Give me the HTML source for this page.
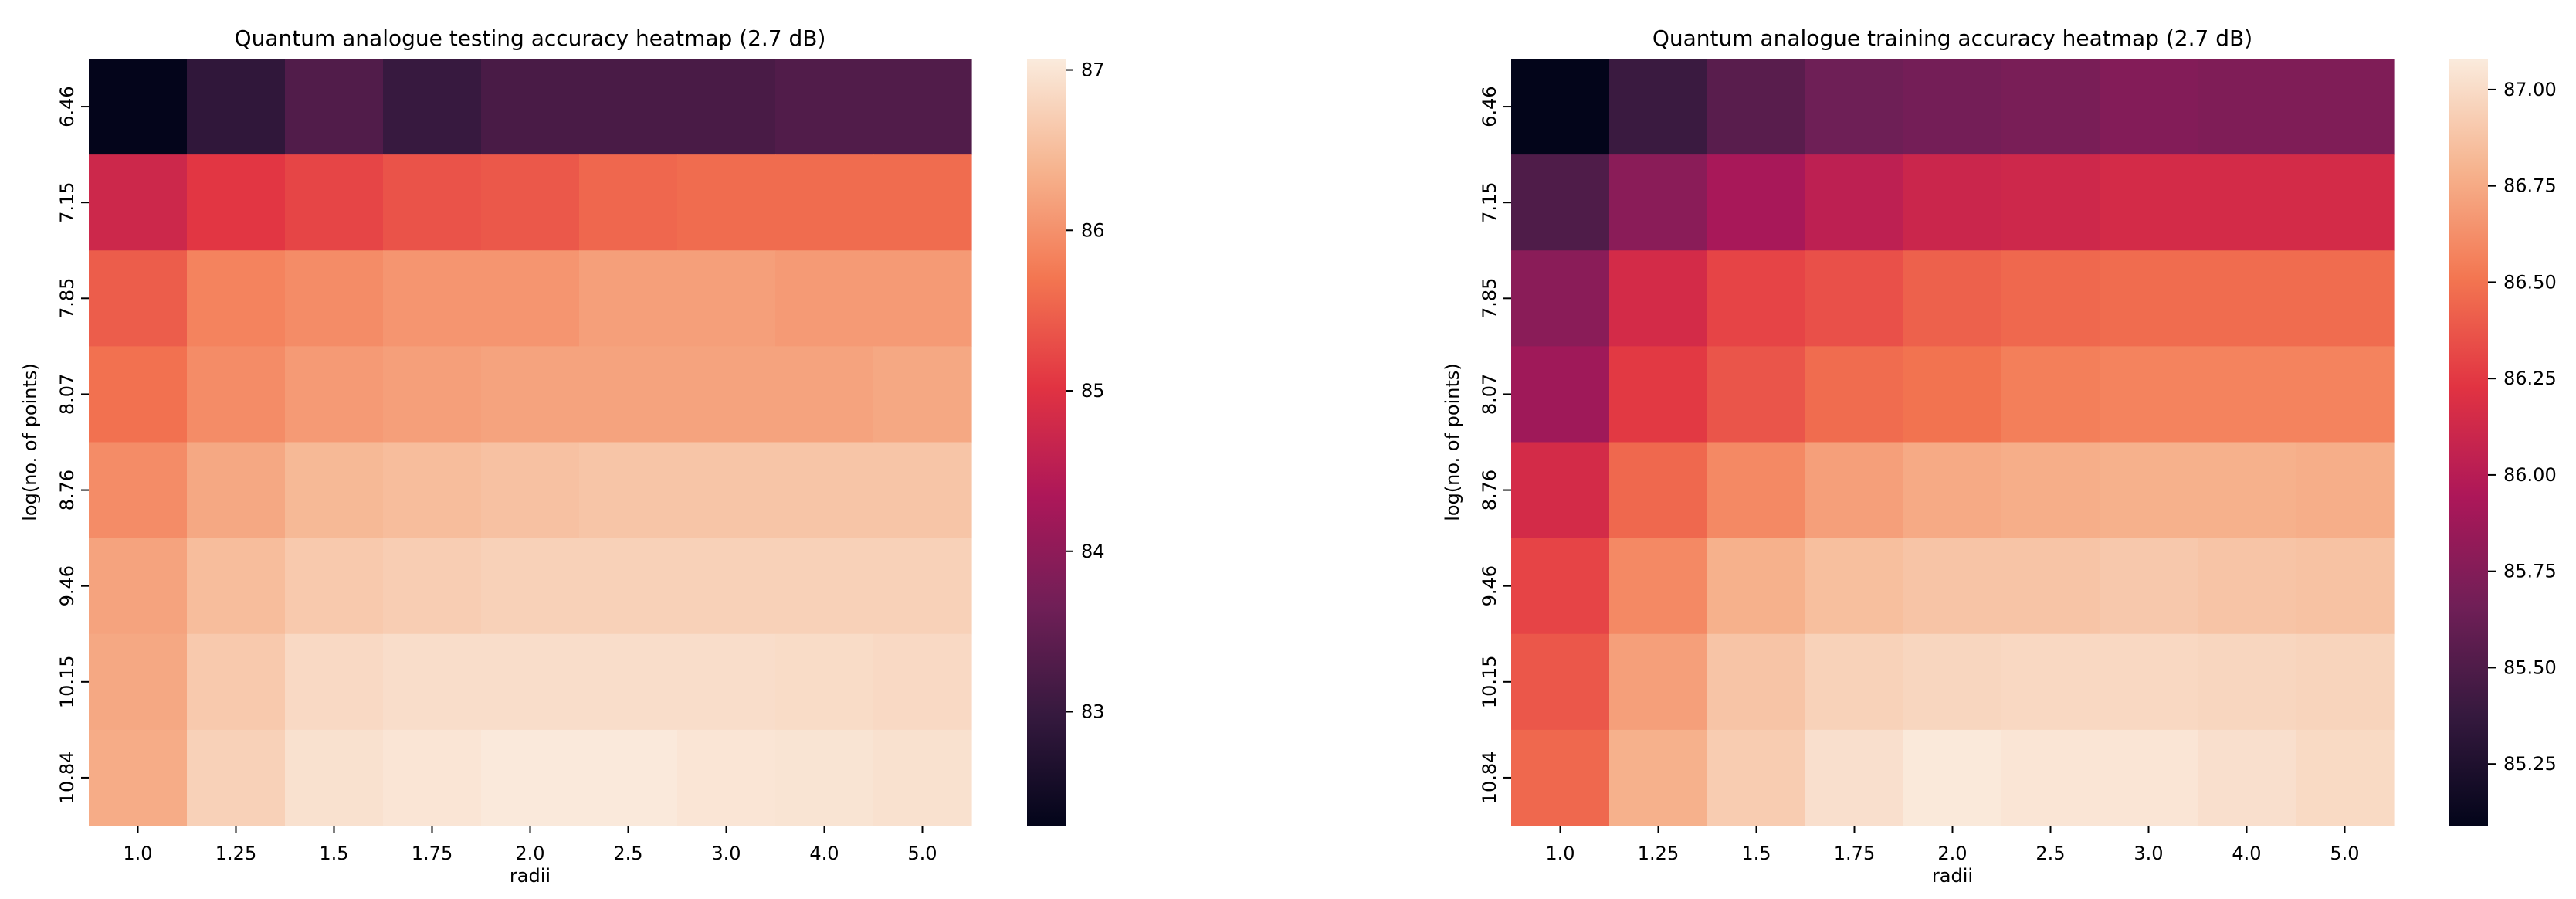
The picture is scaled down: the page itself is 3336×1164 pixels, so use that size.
<!DOCTYPE html>
<html><head><meta charset="utf-8"><style>
html,body{margin:0;padding:0;background:#fff}
svg{display:block;font-family:"DejaVu Sans","Liberation Sans",sans-serif}
</style></head><body>
<svg id="fig" width="3336" height="1164" viewBox="0 0 3336 1164" xmlns="http://www.w3.org/2000/svg">
<defs>
<linearGradient id="rocketGrad" x1="0" y1="1" x2="0" y2="0">
<stop offset="0" stop-color="#03051a"/><stop offset="0.143" stop-color="#35193e"/><stop offset="0.286" stop-color="#701f57"/><stop offset="0.429" stop-color="#ad1759"/><stop offset="0.571" stop-color="#e13342"/><stop offset="0.714" stop-color="#f37651"/><stop offset="0.857" stop-color="#f6b48f"/><stop offset="1" stop-color="#faebdd"/>
</linearGradient>
</defs>
</svg>
<script>
const radii = ["1.0","1.25","1.5","1.75","2.0","2.5","3.0","4.0","5.0"];
const logPoints = ["6.46","7.15","7.85","8.07","8.76","9.46","10.15","10.84"];
const testAcc = [
[82.3,82.9,83.3,83.0,83.2,83.2,83.2,83.3,83.3],
[84.75,85.05,85.2,85.35,85.4,85.55,85.6,85.6,85.6],
[85.45,85.85,85.95,86.05,86.05,86.15,86.15,86.1,86.1],
[85.65,85.95,86.1,86.15,86.2,86.2,86.2,86.2,86.25],
[85.95,86.25,86.45,86.5,86.55,86.6,86.6,86.6,86.6],
[86.2,86.5,86.65,86.7,86.75,86.75,86.75,86.75,86.75],
[86.25,86.65,86.85,86.9,86.9,86.9,86.9,86.88,86.85],
[86.3,86.75,86.95,87.0,87.05,87.05,87.0,86.98,86.95]];
const trainAcc = [
[85.09,85.4,85.55,85.65,85.68,85.7,85.75,85.73,85.73],
[85.5,85.78,85.92,86.03,86.1,86.12,86.15,86.15,86.15],
[85.78,86.15,86.3,86.35,86.42,86.45,86.47,86.47,86.47],
[85.88,86.25,86.37,86.47,86.5,86.55,86.57,86.57,86.57],
[86.15,86.45,86.6,86.7,86.75,86.77,86.78,86.78,86.77],
[86.3,86.6,86.78,86.85,86.88,86.88,86.9,86.88,86.87],
[86.38,86.7,86.88,86.95,86.97,86.98,86.98,86.97,86.96],
[86.45,86.78,86.92,87.02,87.07,87.05,87.05,87.02,86.99]];
const testTicks = ["83","84","85","86","87"];
const trainTicks = ["85.25","85.50","85.75","86.00","86.25","86.50","86.75","87.00"];
const testRange = [82.29,87.07];
const trainRange = [85.09,87.08];

const stops=[[0,"#03051a"],[0.143,"#35193e"],[0.286,"#701f57"],[0.429,"#ad1759"],[0.571,"#e13342"],[0.714,"#f37651"],[0.857,"#f6b48f"],[1,"#faebdd"]];
function hex(h){return [1,3,5].map(i=>parseInt(h.substr(i,2),16));}
function cmap(t){t=Math.max(0,Math.min(1,t));for(let i=1;i<stops.length;i++){if(t<=stops[i][0]){const a=stops[i-1],b=stops[i];const f=(t-a[0])/(b[0]-a[0]);const ca=hex(a[1]),cb=hex(b[1]);return "rgb("+ca.map((v,k)=>Math.round(v+(cb[k]-v)*f)).join(",")+")";}}return stops[stops.length-1][1];}
const NS="http://www.w3.org/2000/svg";
const svg=document.getElementById('fig');
function mk(tag,attrs,parent,text){const e=document.createElementNS(NS,tag);for(const k in attrs)e.setAttribute(k,attrs[k]);if(text!==undefined)e.textContent=text;(parent||svg).appendChild(e);return e;}

function heatmap(cfg){
  const g=mk('g',{});
  
  
  const L=cfg.x,T=76,W=cfg.w,H=993;
  const cw=W/radii.length, ch=H/logPoints.length;
  const [lo,hi]=cfg.range;
  const xScale=i=>L+i*cw, yScale=j=>T+j*ch;
  const cScale=v=>(v-lo)/(hi-lo);
  const yBar=v=>T+H-(v-lo)/(hi-lo)*H;
  cfg.data.forEach((row,j)=>row.forEach((v,i)=>{
    const r=mk('rect',{x:xScale(i),y:yScale(j),width:cw+0.6,height:ch+0.6,fill:cmap(cScale(v))},g);
    
    
  }));
  radii.forEach((lab,i)=>{
    const cx=xScale(i)+cw/2;
    mk('line',{x1:cx,y1:T+H,x2:cx,y2:T+H+10,stroke:'#000','stroke-width':2},g);
    const t=mk('text',{x:cx,y:T+H+44,'font-size':24,'text-anchor':'middle',fill:'#000'},g,lab);
    
    
  });
  logPoints.forEach((lab,j)=>{
    const cy=yScale(j)+ch/2;
    mk('line',{x1:L-10,y1:cy,x2:L,y2:cy,stroke:'#000','stroke-width':2},g);
    const t=mk('text',{x:L-28,y:cy+8,'font-size':24,'text-anchor':'middle',transform:`rotate(-90 ${L-28} ${cy})`,fill:'#000'},g,lab);
    
    
  });
  const xl=mk('text',{x:L+W/2,y:1142,'font-size':24,'text-anchor':'middle',fill:'#000'},g,'radii');
  
  
  const yl=mk('text',{x:L-68,y:T+H/2,'font-size':24,'text-anchor':'middle',transform:`rotate(-90 ${L-68} ${T+H/2})`,fill:'#000'},g,'log(no. of points)');
  
  
  const tt=mk('text',{x:L+W/2,y:59,'font-size':28,'text-anchor':'middle',fill:'#000'},g,cfg.title);
  
  
  const cb=mk('rect',{x:cfg.cbx,y:T,width:50,height:H,fill:'url(#rocketGrad)'},g);
  
  
  cfg.ticks.forEach(lab=>{
    const y=yBar(parseFloat(lab));
    mk('line',{x1:cfg.cbx+50,y1:y,x2:cfg.cbx+60,y2:y,stroke:'#000','stroke-width':2},g);
    const t=mk('text',{x:cfg.cbx+70,y:y+8,'font-size':24,fill:'#000'},g,lab);
    
    
  });
}
heatmap({name:'testing-heatmap',x:115,w:1143,range:testRange,data:testAcc,ticks:testTicks,cbx:1330,title:'Quantum analogue testing accuracy heatmap (2.7 dB)'});
heatmap({name:'training-heatmap',x:1957,w:1143,range:trainRange,data:trainAcc,ticks:trainTicks,cbx:3172,title:'Quantum analogue training accuracy heatmap (2.7 dB)'});
</script>
</body></html>
